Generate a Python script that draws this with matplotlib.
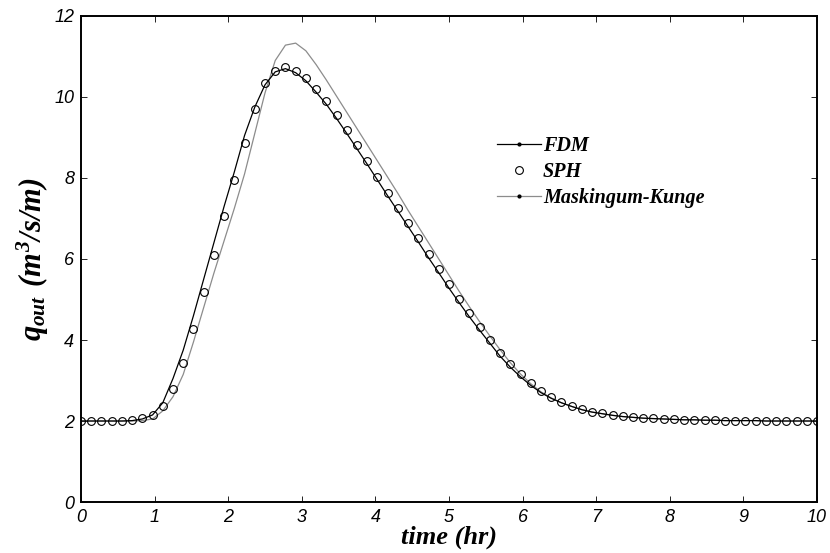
"""Outflow hydrograph: FDM vs SPH vs Maskingum-Kunge."""

import matplotlib

matplotlib.use("Agg")
import matplotlib.pyplot as plt  # noqa: E402
import numpy as np
from matplotlib.lines import Line2D

# time grid of the solutions, dt = 500 s
time_hr = np.linspace(0.0, 10.0, 73)

q_sph = [
    2.00, 2.00, 2.00, 2.00, 2.00, 2.02, 2.07, 2.15, 2.37, 2.78,
    3.42, 4.26, 5.18, 6.11, 7.06, 7.95, 8.86, 9.70, 10.34, 10.65,
    10.75, 10.65, 10.46, 10.19, 9.90, 9.55, 9.19, 8.81, 8.43, 8.03,
    7.64, 7.27, 6.90, 6.51, 6.12, 5.75, 5.38, 5.01, 4.66, 4.33,
    4.00, 3.67, 3.41, 3.16, 2.93, 2.74, 2.60, 2.48, 2.37, 2.29,
    2.22, 2.19, 2.15, 2.12, 2.10, 2.08, 2.07, 2.05, 2.04, 2.03,
    2.03, 2.02, 2.02, 2.01, 2.01, 2.01, 2.01, 2.00, 2.00, 2.00,
    2.00, 2.00, 2.00,
]

q_fdm = [
    2.00, 2.00, 2.00, 2.00, 2.00, 2.01, 2.05, 2.15, 2.45, 3.05,
    3.75, 4.60, 5.50, 6.40, 7.30, 8.15, 9.05, 9.75, 10.30, 10.62,
    10.70, 10.60, 10.40, 10.12, 9.82, 9.47, 9.10, 8.72, 8.34, 7.95,
    7.56, 7.18, 6.80, 6.42, 6.03, 5.66, 5.28, 4.92, 4.57, 4.24,
    3.92, 3.60, 3.33, 3.09, 2.88, 2.70, 2.56, 2.45, 2.36, 2.28,
    2.22, 2.18, 2.14, 2.11, 2.09, 2.07, 2.06, 2.05, 2.04, 2.03,
    2.03, 2.02, 2.02, 2.01, 2.01, 2.01, 2.01, 2.00, 2.00, 2.00,
    2.00, 2.00, 2.00,
]

q_mk = [
    2.00, 2.00, 2.00, 2.00, 2.00, 2.00, 2.01, 2.05, 2.25, 2.60,
    3.15, 3.95, 4.80, 5.65, 6.45, 7.25, 8.10, 9.10, 10.10, 10.90,
    11.28, 11.33, 11.14, 10.80, 10.42, 10.02, 9.62, 9.22, 8.82, 8.42,
    8.02, 7.62, 7.20, 6.80, 6.40, 6.00, 5.60, 5.20, 4.82, 4.45,
    4.10, 3.76, 3.44, 3.16, 2.92, 2.72, 2.57, 2.45, 2.36, 2.28,
    2.22, 2.18, 2.14, 2.11, 2.09, 2.07, 2.06, 2.05, 2.04, 2.03,
    2.03, 2.02, 2.02, 2.01, 2.01, 2.01, 2.01, 2.00, 2.00, 2.00,
    2.00, 2.00, 2.00,
]

x_ticks = [0, 1, 2, 3, 4, 5, 6, 7, 8, 9, 10]
y_ticks = [0, 2, 4, 6, 8, 10, 12]

plt.rcParams["mathtext.fontset"] = "custom"
plt.rcParams["mathtext.rm"] = "Liberation Serif:bold:italic"
plt.rcParams["mathtext.it"] = "Liberation Serif:bold:italic"
plt.rcParams["mathtext.bf"] = "Liberation Serif:bold:italic"

serif_bi = dict(family="Liberation Serif", weight="bold", style="italic")

fig = plt.figure(figsize=(8.3, 5.53), dpi=100)
ax = fig.add_axes([0.0976, 0.0922, 0.8867, 0.8789])

ax.plot(time_hr, q_mk, color="0.55", lw=0.9)
ax.plot(time_hr, q_fdm, color="k", lw=0.9)
ax.plot(time_hr, q_sph, ls="none", marker="o", ms=5.6, mfc="none", mec="k", mew=0.8)

ax.set_xlim(0, 10)
ax.set_ylim(0, 12)
ax.set_xticks(x_ticks)
ax.set_yticks(y_ticks)
ax.tick_params(direction="in", length=4, width=0.6, top=True, right=True, pad=5)
for lab in ax.get_xticklabels() + ax.get_yticklabels():
    lab.set_fontfamily("Liberation Sans")
    lab.set_fontstyle("italic")
    lab.set_fontsize(13)
for sp in ax.spines.values():
    sp.set_linewidth(1.4)

ax.set_xlabel("time (hr)", fontsize=19, labelpad=0, **serif_bi)
ax.set_ylabel(r"$q_{out}$ $(m^3/s/m)$", fontsize=22, labelpad=2)

handles = [
    Line2D([], [], color="k", lw=0.9, marker=".", ms=4),
    Line2D([], [], ls="none", marker="o", ms=5.6, mfc="none", mec="k", mew=0.8),
    Line2D([], [], color="0.55", lw=0.9, marker=".", ms=4, mfc="k", mec="k"),
]
ax.legend(
    handles,
    ["FDM", "SPH", "Maskingum-Kunge"],
    loc="upper left",
    bbox_to_anchor=(0.54, 0.79),
    frameon=False,
    handlelength=2.2,
    handletextpad=0.1,
    labelspacing=0.3,
    prop=dict(size=14.5, **serif_bi),
)

fig.savefig("out.png", dpi=100)
plt.close(fig)
